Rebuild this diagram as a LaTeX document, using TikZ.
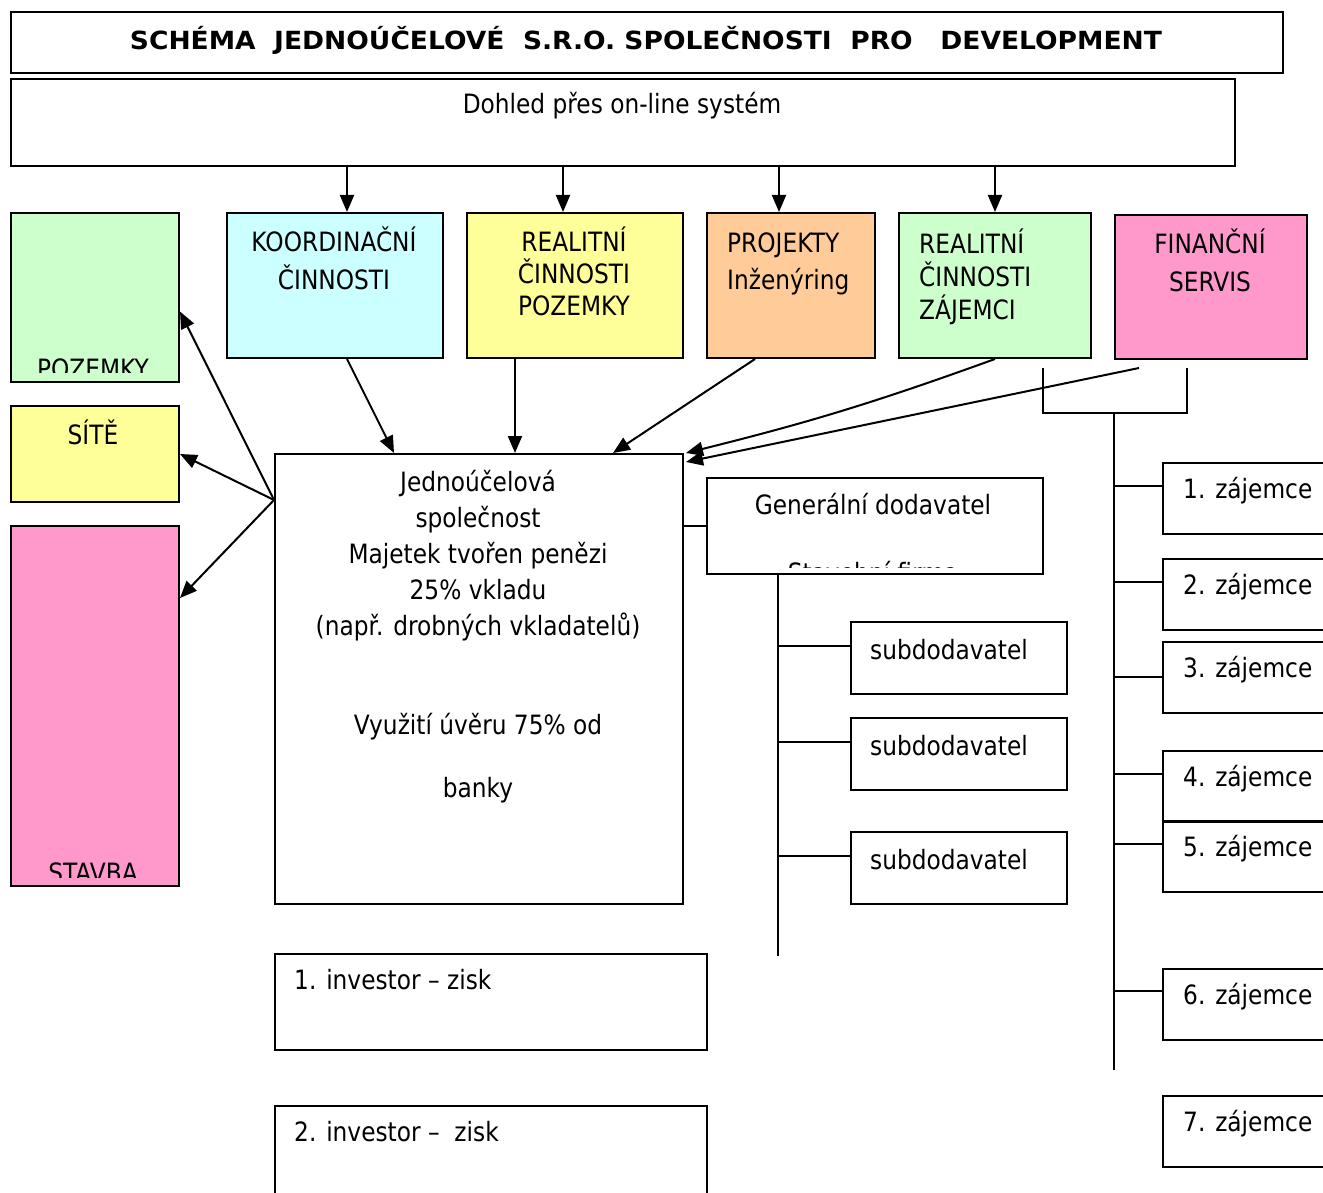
\documentclass[tikz,border=0pt]{standalone}
\usepackage{graphicx}
\usepackage{fontspec}
\setmainfont{DejaVu Sans}[FakeStretch=0.875]
\newfontfamily\nadpis{DejaVu Sans}
\usetikzlibrary{arrows.meta}
\definecolor{zelena}{HTML}{CCFFCC}
\definecolor{modra}{HTML}{CCFFFF}
\definecolor{zluta}{HTML}{FFFF99}
\definecolor{oranzova}{HTML}{FFCC99}
\definecolor{ruzova}{HTML}{FF99CC}

\begin{document}
\begin{tikzpicture}[x=1pt,y=-1pt]
	\tikzset{
		ram/.style 2 args={draw, line width=2pt, anchor=north west, inner sep=0pt, minimum width=#1, minimum height=#2},
		pismo/.style={inner sep=0pt, font=\fontsize{26.6}{36}\selectfont},
		sipka/.style={line width=2pt, -{Triangle[length=17pt,width=14pt]}},
		cara/.style={line width=2pt}
	}
	\useasboundingbox (0,0) rectangle (1323,1193);
	% ramecky
	\node[ram={1272pt}{61pt}] (titul) at (10,11) {};
	\node[ram={1224pt}{87pt}] (dohled) at (10,78) {};
	\node[ram={168pt}{169pt}, fill=zelena] (pozemky) at (10,212) {};
	\node[ram={216pt}{145pt}, fill=modra] (koord) at (226,212) {};
	\node[ram={216pt}{145pt}, fill=zluta] (realpoz) at (466,212) {};
	\node[ram={168pt}{145pt}, fill=oranzova] (projekty) at (706,212) {};
	\node[ram={192pt}{145pt}, fill=zelena] (realzaj) at (898,212) {};
	\node[ram={192pt}{144pt}, fill=ruzova] (finservis) at (1114,214) {};
	\node[ram={168pt}{96pt}, fill=zluta] (site) at (10,405) {};
	\node[ram={168pt}{360pt}, fill=ruzova] (stavba) at (10,525) {};
	\node[ram={408pt}{450pt}] (hlavni) at (274,453) {};
	\node[ram={336pt}{96pt}] (gendod) at (706,477) {};
	\node[ram={216pt}{72pt}] (sub1) at (850,621) {};
	\node[ram={216pt}{72pt}] (sub2) at (850,717) {};
	\node[ram={216pt}{72pt}] (sub3) at (850,831) {};
	\node[ram={432pt}{96pt}] (inv1) at (274,953) {};
	\node[ram={432pt}{130pt}] (inv2) at (274,1105) {};
	\foreach \n/\t in {1/462, 2/558, 3/641, 4/750, 5/820, 6/968, 7/1095}{
		\node[ram={200pt}{71pt}] (z\n) at (1162,\t) {};
		\node[pismo, anchor=base west] (zt\n) at (1183,\t+36) {\n. zájemce};
	}

	% texty (base = posledni radek)
	\node[inner sep=0pt, anchor=base] (titulT) at (646,50)
		{\resizebox{1032pt}{\height}{\nadpis\fontsize{25}{28}\selectfont\bfseries SCHÉMA\ \ JEDNOÚČELOVÉ\ \ S.R.O. SPOLEČNOSTI\ \ PRO\ \ \ DEVELOPMENT}};
	\node[pismo, anchor=base] (dohledT) at (622,114) {Dohled přes on-line systém};
	\node[pismo, anchor=base, align=center, font=\fontsize{26.6}{38}\selectfont] (koordT) at (334,289) {KOORDINAČNÍ\\ČINNOSTI};
	\node[pismo, anchor=base, align=center, font=\fontsize{26.6}{32.5}\selectfont] (realpozT) at (574,316) {REALITNÍ\\ČINNOSTI\\POZEMKY};
	\node[pismo, anchor=base west, align=left] (projektyT) at (727,289) {PROJEKTY\\Inženýring};
	\node[pismo, anchor=base west, align=left, font=\fontsize{26.6}{33}\selectfont] (realzajT) at (919,319) {REALITNÍ\\ČINNOSTI\\ZÁJEMCI};
	\node[pismo, anchor=base, align=center, font=\fontsize{26.6}{38}\selectfont] (finservisT) at (1210,291) {FINANČNÍ\\SERVIS};
	\node[pismo, anchor=base] (siteT) at (93,444) {SÍTĚ};
	\node[pismo, anchor=base, align=center] (hlavniT) at (478,797)
		{Jednoúčelová\\společnost\\Majetek tvořen penězi\\25\% vkladu\\(např. drobných vkladatelů)\\[63pt]Využití úvěru 75\% od\\[27pt]banky};
	\node[pismo, anchor=base] (gendodT) at (873,514) {Generální dodavatel};
	\foreach \i in {1,2,3}
		\node[pismo, anchor=base west] (subT\i) at ([xshift=20,yshift=-38]sub\i.north west) {subdodavatel};
	\node[pismo, anchor=base west] (inv1T) at (294,989) {1. investor – zisk};
	\node[pismo, anchor=base west] (inv2T) at (294,1141) {2. investor –\ \ zisk};
	\begin{scope}
		\clip (pozemky.north west) rectangle ([yshift=11]pozemky.south east);
		\node[pismo, anchor=base] (pozemkyT) at (93,378) {POZEMKY};
	\end{scope}
	\begin{scope}
		\clip (stavba.north west) rectangle ([yshift=10]stavba.south east);
		\node[pismo, anchor=base] (stavbaT) at (93,882) {STAVBA};
	\end{scope}
	\begin{scope}
		\clip (gendod.north west) rectangle ([yshift=8]gendod.south east);
		\node[pismo, anchor=base] (firmaT) at (873,582) {Stavební firma};
	\end{scope}

	% sipky
	\foreach \kam/\dx in {koord/12, realpoz/-12, projekty/-12, realzaj/0}{
		\coordinate (c) at ([xshift=\dx]\kam.north);
		\draw[sipka] (dohled.south -| c) -- (c);
	}
	\draw[sipka] ([xshift=12]koord.south) -- ([xshift=-85]hlavni.north);
	\draw[sipka] ([xshift=-60]realpoz.south) -- ([xshift=36]hlavni.north);
	\draw[sipka] ([xshift=-36]projekty.south) -- ([xshift=134]hlavni.north);
	\draw[sipka] (realzaj.south) to[bend left=3] ([xshift=2]hlavni.north east);
	\draw[sipka] ([xshift=-72,yshift=-8]finservis.south) -- ([xshift=2,yshift=-9]hlavni.north east);
	\coordinate (rozcesti) at ([yshift=-47]hlavni.north west);
	\draw[sipka] (rozcesti) -- ([yshift=-14]pozemky.east);
	\draw[sipka] (rozcesti) -- (site.east);
	\draw[sipka] (rozcesti) -- ([yshift=-73]stavba.north east);

	% dodavatele
	\coordinate (gdkonec) at (778,956);
	\draw[cara] (gendod.west) -- (gendod.west -| hlavni.east);
	\draw[cara] (gendod.south -| gdkonec) -- (gdkonec);
	\foreach \i in {1,2,3}
		\draw[cara] ([yshift=12]sub\i.west) -- ++(-72,0);

	% zajemci
	\coordinate (zhlava) at (1114,413);
	\coordinate (zkonec) at (1114,1070);
	\draw[cara] ([xshift=48,yshift=-9]realzaj.south) |- (zhlava) -| ([xshift=-24,yshift=-8]finservis.south);
	\draw[cara] (zhlava) -- (zkonec);
	\foreach \n/\v in {1/24, 2/24, 3/36, 4/24, 5/24, 6/23}
		\draw[cara] ([yshift=-\v]z\n.north west) -- ++(-48,0);
\end{tikzpicture}
\end{document}
